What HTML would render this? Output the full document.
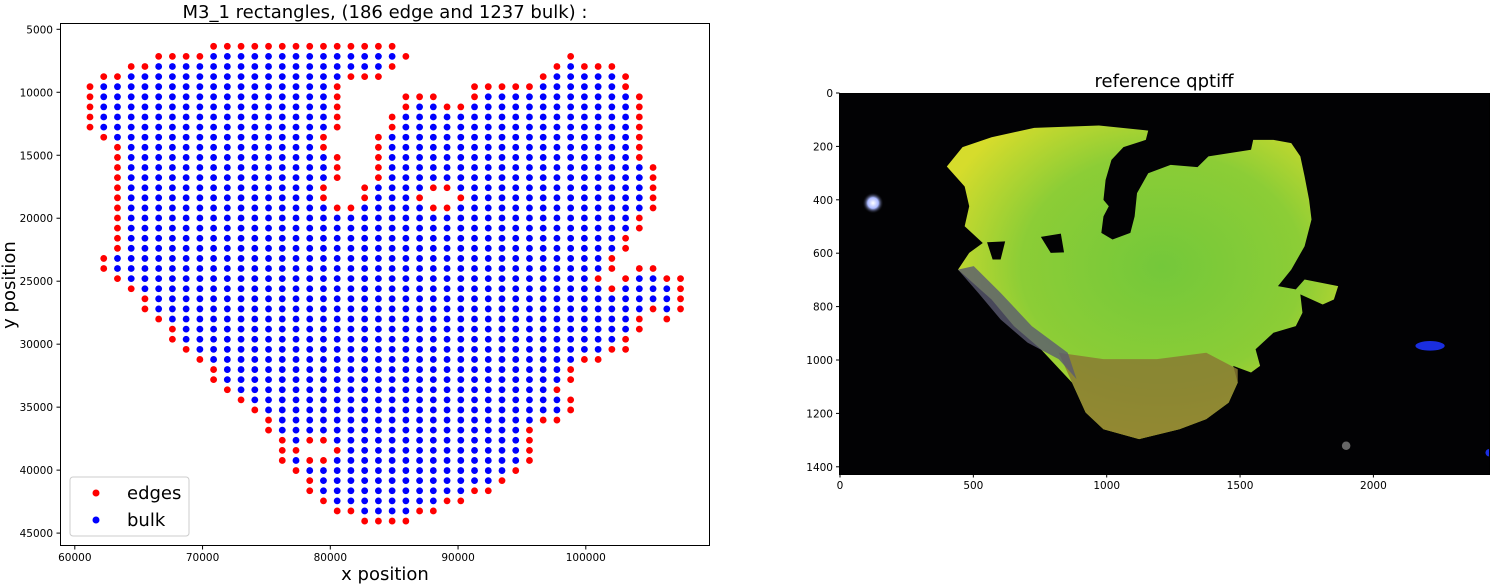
<!DOCTYPE html>
<html><head><meta charset="utf-8"><style>
html,body{margin:0;padding:0;background:#fff;}
svg{display:block;font-family:"DejaVu Sans","Liberation Sans",sans-serif;}
</style></head><body>
<svg id="fig" width="1492" height="586" viewBox="0 0 1492 586" xmlns="http://www.w3.org/2000/svg">
<defs>
<radialGradient id="tissueGrad" cx="0.55" cy="0.45" r="0.6">
<stop offset="0" stop-color="#74c83a"/><stop offset="0.6" stop-color="#8ccd36"/><stop offset="1" stop-color="#d6dc2c"/>
</radialGradient>
<radialGradient id="glow" cx="0.5" cy="0.5" r="0.5"><stop offset="0" stop-color="#ffffff"/><stop offset="0.5" stop-color="#aab8ff"/><stop offset="1" stop-color="#000" stop-opacity="0"/></radialGradient>
</defs>
<g id="left">
<text x="385" y="18" font-size="18" text-anchor="middle">M3_1 rectangles, (186 edge and 1237 bulk) :</text>
<rect x="60.5" y="23.5" width="649" height="522" fill="#fff" stroke="#000" stroke-width="1"/>
<g id="xticks"></g>
<g id="yticks"></g>
<g id="dots"></g>
<text x="385" y="580" font-size="18" text-anchor="middle">x position</text>
<text x="0" y="0" font-size="18" text-anchor="middle" transform="translate(15,285) rotate(-90)">y position</text>
<g>
<rect x="70" y="477" width="119" height="59" rx="3" fill="#fff" fill-opacity="0.85" stroke="#ccc"/>
<g><circle cx="96" cy="493" r="3.5" fill="#ff0000"/><text x="127" y="499" font-size="18">edges</text></g>
<g><circle cx="96" cy="520" r="3.5" fill="#0000ff"/><text x="127" y="526" font-size="18">bulk</text></g>
</g>
</g>
<g id="right">
<text x="1164" y="87" font-size="18" text-anchor="middle">reference qptiff</text>
<svg x="840" y="93" width="650" height="381" viewBox="0 0 2440 1430" preserveAspectRatio="none">
<rect x="0" y="0" width="2440" height="1430" fill="#020204"/>
<circle cx="124" cy="413" r="40" fill="url(#glow)"/>
<ellipse cx="2215" cy="949" rx="55" ry="18" fill="#1a2ee0"/>
<circle cx="1900" cy="1324" r="16" fill="#666"/>
<circle cx="2437" cy="1350" r="14" fill="#1a2ee0"/>
<polygon id="tissue" fill="url(#tissueGrad)" points=""/>
<polygon id="lowerlobe" fill="#8a7a32" opacity="0.85" points=""/>
<polygon id="edgestrip" fill="#5a5a70" opacity="0.8" points=""/>
<polygon id="hole1" fill="#020204" points=""/>
<polygon id="hole2" fill="#020204" points=""/>
</svg>
<rect x="839.5" y="93.5" width="650" height="381" fill="none" stroke="#000"/>
<g id="rxticks"></g>
<g id="ryticks"></g>
</g>
</svg>
<script>
// ---- scatter data ----
const xTickValues = [60000, 70000, 80000, 90000, 100000];
const yTickValues = [5000, 10000, 15000, 20000, 25000, 30000, 35000, 40000, 45000];
const gridOriginX = 61190, gridStepX = 1075;   // data units
const gridOriginY = 6350, gridStepY = 802;     // data units
// per grid row: segments [startCol, endCol, type] (e = edge, b = bulk)
const rowSegments = [
[[9,22,'e']],
[[5,8,'e'],[9,22,'b'],[23,23,'e'],[35,35,'e']],
[[3,4,'e'],[5,21,'b'],[22,22,'e'],[34,34,'e'],[35,35,'b'],[36,38,'e']],
[[1,2,'e'],[3,18,'b'],[19,21,'e'],[33,33,'e'],[34,38,'b'],[39,39,'e']],
[[0,0,'e'],[1,17,'b'],[18,18,'e'],[28,32,'e'],[33,38,'b'],[39,39,'e']],
[[0,0,'e'],[1,17,'b'],[18,18,'e'],[23,25,'e'],[28,28,'e'],[29,39,'b'],[40,40,'e']],
[[0,0,'e'],[1,17,'b'],[18,18,'e'],[23,23,'e'],[24,25,'b'],[26,27,'e'],[28,39,'b'],[40,40,'e']],
[[0,0,'e'],[1,17,'b'],[18,18,'e'],[22,22,'e'],[23,39,'b'],[40,40,'e']],
[[0,0,'e'],[1,17,'b'],[18,18,'e'],[22,22,'e'],[23,39,'b'],[40,40,'e']],
[[1,1,'e'],[2,16,'b'],[17,17,'e'],[21,21,'e'],[22,39,'b'],[40,40,'e']],
[[2,2,'e'],[3,16,'b'],[17,17,'e'],[21,21,'e'],[22,39,'b'],[40,40,'e']],
[[2,2,'e'],[3,17,'b'],[18,18,'e'],[21,21,'e'],[22,39,'b'],[40,40,'e']],
[[2,2,'e'],[3,17,'b'],[18,18,'e'],[21,21,'e'],[22,40,'b'],[41,41,'e']],
[[2,2,'e'],[3,17,'b'],[18,18,'e'],[21,21,'e'],[22,40,'b'],[41,41,'e']],
[[2,2,'e'],[3,16,'b'],[17,17,'e'],[20,20,'e'],[21,24,'b'],[25,26,'e'],[27,40,'b'],[41,41,'e']],
[[2,2,'e'],[3,16,'b'],[17,17,'e'],[20,20,'e'],[21,23,'b'],[24,24,'e'],[27,27,'e'],[28,40,'b'],[41,41,'e']],
[[2,2,'e'],[3,17,'b'],[18,19,'e'],[20,24,'b'],[25,26,'e'],[27,40,'b'],[41,41,'e']],
[[2,2,'e'],[3,39,'b'],[40,40,'e']],
[[2,2,'e'],[3,39,'b'],[40,40,'e']],
[[2,2,'e'],[3,38,'b'],[39,39,'e']],
[[2,2,'e'],[3,38,'b'],[39,39,'e']],
[[1,1,'e'],[2,37,'b'],[38,38,'e']],
[[1,1,'e'],[2,37,'b'],[38,38,'e'],[40,41,'e']],
[[2,2,'e'],[3,36,'b'],[37,37,'e'],[39,39,'e'],[40,41,'b'],[42,43,'e']],
[[3,3,'e'],[4,37,'b'],[38,38,'e'],[39,42,'b'],[43,43,'e']],
[[4,4,'e'],[5,42,'b'],[43,43,'e']],
[[4,4,'e'],[5,40,'b'],[41,41,'e'],[42,42,'b'],[43,43,'e']],
[[5,5,'e'],[6,39,'b'],[40,40,'e'],[42,42,'e']],
[[6,6,'e'],[7,39,'b'],[40,40,'e']],
[[6,6,'e'],[7,38,'b'],[39,39,'e']],
[[7,7,'e'],[8,37,'b'],[38,39,'e']],
[[8,8,'e'],[9,35,'b'],[36,37,'e']],
[[9,9,'e'],[10,34,'b'],[35,35,'e']],
[[9,9,'e'],[10,34,'b'],[35,35,'e']],
[[10,10,'e'],[11,33,'b'],[34,34,'e']],
[[11,11,'e'],[12,34,'b'],[35,35,'e']],
[[12,12,'e'],[13,34,'b'],[35,35,'e']],
[[13,13,'e'],[14,32,'b'],[33,34,'e']],
[[13,13,'e'],[14,31,'b'],[32,32,'e']],
[[14,14,'e'],[15,15,'b'],[16,17,'e'],[18,31,'b'],[32,32,'e']],
[[14,15,'e'],[18,18,'e'],[19,31,'b'],[32,32,'e']],
[[14,14,'e'],[15,15,'b'],[16,17,'e'],[18,31,'b'],[32,32,'e']],
[[15,15,'e'],[16,30,'b'],[31,31,'e']],
[[16,16,'e'],[17,29,'b'],[30,30,'e']],
[[16,16,'e'],[17,27,'b'],[28,29,'e']],
[[17,17,'e'],[18,25,'b'],[26,27,'e']],
[[18,19,'e'],[20,23,'b'],[24,25,'e']],
[[20,23,'e']]
];
// ---- image axis data ----
const imgXTicks = [0, 500, 1000, 1500, 2000];
const imgYTicks = [0, 200, 400, 600, 800, 1000, 1200, 1400];

const NS = 'http://www.w3.org/2000/svg';
function xS(v){ return 74.8 + (v - 60000) * 0.012775; }
function yS(v){ return 29.3 + (v - 5000) * 0.012595; }
function mk(tag, attrs, parent){ const e = document.createElementNS(NS, tag); for (const k in attrs) e.setAttribute(k, attrs[k]); parent.appendChild(e); return e; }

const xg = document.getElementById('xticks');
xTickValues.forEach(v => {
  const x = xS(v);
  const t = mk('line', {x1:x, x2:x, y1:546, y2:549.5, stroke:'#000'}, xg);
  
  
  const l = mk('text', {x:x, y:561, 'font-size':10.5, 'text-anchor':'middle'}, xg);
  l.textContent = v;
  
  
});
const yg = document.getElementById('yticks');
yTickValues.forEach(v => {
  const y = yS(v);
  const t = mk('line', {x1:56.5, x2:60, y1:y, y2:y, stroke:'#000'}, yg);
  
  
  const l = mk('text', {x:53, y:y + 4, 'font-size':10.5, 'text-anchor':'end'}, yg);
  l.textContent = v;
  
  
});
const dg = document.getElementById('dots');
rowSegments.forEach((segs, r) => {
  const yv = gridOriginY + r * gridStepY;
  segs.forEach(s => {
    for (let c = s[0]; c <= s[1]; c++) {
      const xv = gridOriginX + c * gridStepX;
      const d = mk('circle', {cx:xS(xv), cy:yS(yv), r:3.4, fill: s[2] === 'e' ? '#ff0000' : '#0000ff'}, dg);
      
      
    }
  });
});

// image panel axes
function ixS(v){ return 840 + v * 0.2667; }
function iyS(v){ return 93 + v * 0.267; }
const rxg = document.getElementById('rxticks');
imgXTicks.forEach(v => {
  const x = ixS(v);
  mk('line', {x1:x, x2:x, y1:474, y2:477.5, stroke:'#000'}, rxg);
  const l = mk('text', {x:x, y:489, 'font-size':10.5, 'text-anchor':'middle'}, rxg);
  l.textContent = v;
  
  
});
const ryg = document.getElementById('ryticks');
imgYTicks.forEach(v => {
  const y = iyS(v);
  mk('line', {x1:836, x2:839.5, y1:y, y2:y, stroke:'#000'}, ryg);
  const l = mk('text', {x:833, y:y + 4, 'font-size':10.5, 'text-anchor':'end'}, ryg);
  l.textContent = v;
  
  
});

// tissue shapes (outline traced in zoom coords, converted to image pixel units)
function conv(pts){ return pts.map(p => ((p[0]-111)*1.679).toFixed(0) + ',' + ((p[1]-99)*1.2478).toFixed(0)).join(' '); }
document.getElementById('tissue').setAttribute('points', conv([[350,320],[385,262],[450,232],[545,204],[690,197],[800,212],[795,240],[745,262],[718,300],[705,360],[700,420],[712,440],[700,470],[695,520],[720,540],[760,520],[770,470],[775,400],[800,340],[850,315],[910,322],[935,290],[1030,270],[1035,240],[1080,240],[1120,250],[1140,290],[1150,350],[1160,420],[1165,480],[1150,560],[1120,630],[1090,680],[1130,690],[1150,660],[1225,680],[1215,720],[1190,735],[1140,705],[1145,760],[1130,800],[1080,820],[1040,870],[1050,920],[1030,940],[990,920],[1000,970],[980,1030],[930,1080],[870,1110],[780,1140],[700,1110],[660,1060],[630,970],[560,870],[500,800],[450,720],[375,630],[400,580],[430,550],[390,500],[400,440],[390,380]]));
document.getElementById('lowerlobe').setAttribute('points', conv([[600,880],[700,900],[820,900],[930,880],[1000,930],[1000,970],[980,1030],[930,1080],[870,1110],[780,1140],[700,1110],[660,1060],[630,970]]));
document.getElementById('edgestrip').setAttribute('points', conv([[375,630],[410,620],[470,700],[540,800],[620,880],[640,960],[600,900],[530,850],[470,780],[420,700]]));
document.getElementById('hole1').setAttribute('points', conv([[440,548],[480,545],[470,600],[452,600]]));
document.getElementById('hole2').setAttribute('points', conv([[560,532],[605,522],[612,578],[582,580]]));
</script>
</body></html>
